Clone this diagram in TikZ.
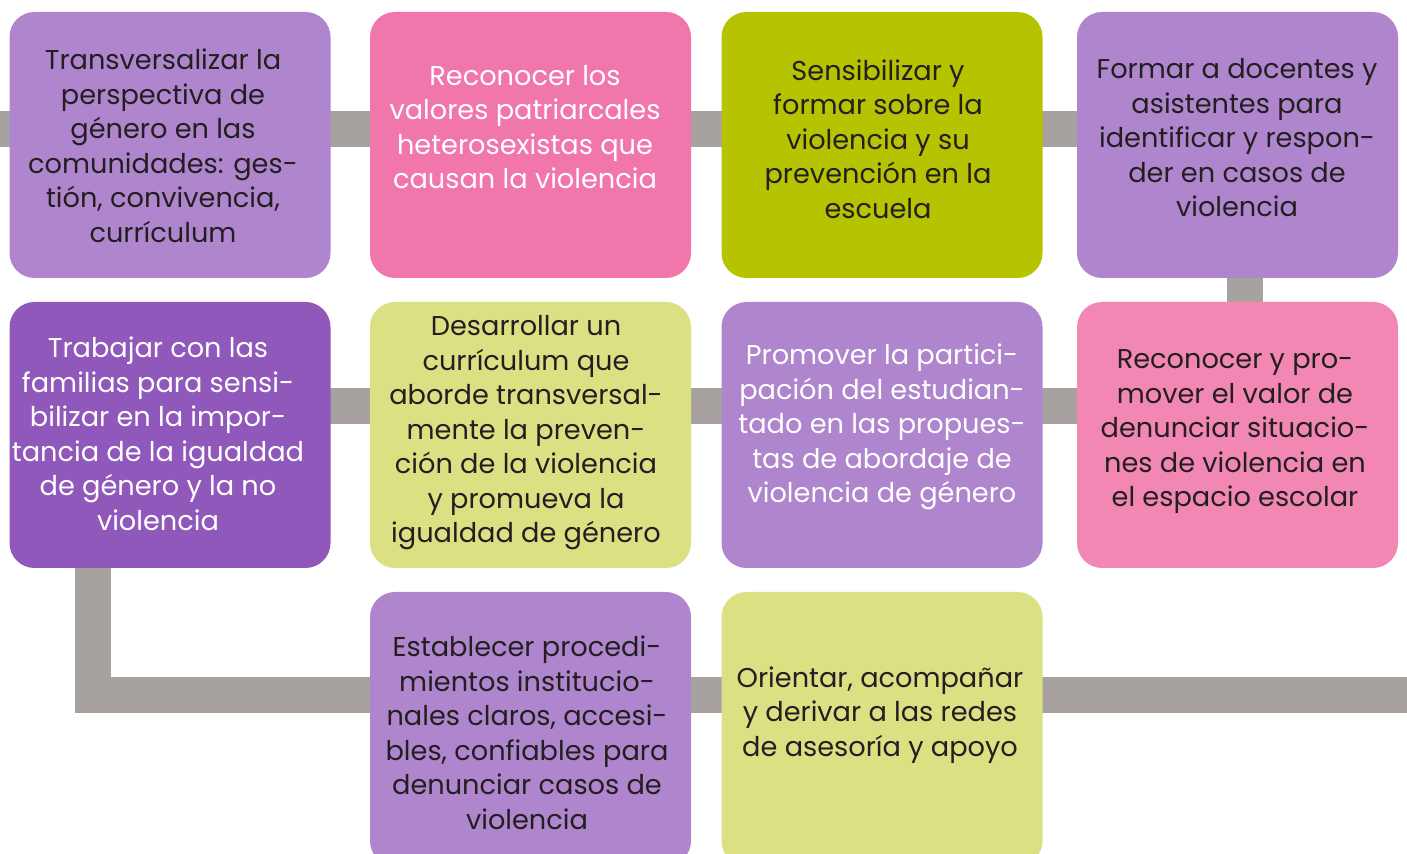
\documentclass[tikz,border=0pt]{standalone}
\usepackage{fontspec}
\setmainfont{Poppins}
\usetikzlibrary{backgrounds}

\definecolor{lila}{HTML}{AF85CE}
\definecolor{rosa}{HTML}{F076AB}
\definecolor{lima}{HTML}{B5C300}
\definecolor{morado}{HTML}{9058BA}
\definecolor{limaclaro}{HTML}{DBE183}
\definecolor{rosaclaro}{HTML}{F287B3}
\definecolor{gris}{HTML}{A7A29F}
\definecolor{tinta}{HTML}{231F20}

\tikzset{
  box/.style={rounded corners=12.5pt, minimum width=160.5pt, minimum height=133pt, inner sep=0pt},
  txt/.style={align=center, inner sep=0pt, text=tinta, font=\fontsize{13.6}{17.25}\selectfont},
  bar/.style={draw=gris, line width=18pt},
}

\begin{document}
\begin{tikzpicture}[x=.5pt, y=-.5pt]
	\useasboundingbox (0,0) rectangle (1407,854);

	\node[box, fill=lila]      (b11) at (170,145) {};
	\node[box, fill=rosa]      (b12) at (530.5,145) {};
	\node[box, fill=lima]      (b13) at (882,145) {};
	\node[box, fill=lila]      (b14) at (1237.5,145) {};
	\node[box, fill=morado]    (b21) at (170,435) {};
	\node[box, fill=limaclaro] (b22) at (530.5,435) {};
	\node[box, fill=lila]      (b23) at (882,435) {};
	\node[box, fill=rosaclaro] (b24) at (1237.5,435) {};
	\node[box, fill=lila, minimum height=137pt]      (b31) at (530.5,729) {};
	\node[box, fill=limaclaro, minimum height=137pt] (b32) at (882,729) {};

	\node[txt]             (t11) at (163,146)   {Transversalizar la\\perspectiva de\\género en las\\comunidades: ges-\\tión, convivencia,\\currículum};
	\node[txt, text=white] (t12) at (525,127)   {Reconocer los\\valores patriarcales\\heterosexistas que\\causan la violencia};
	\node[txt]             (t13) at (878,139)   {Sensibilizar y\\formar sobre la\\violencia y su\\prevención en la\\escuela};
	\node[txt]             (t14) at (1237,138)  {Formar a docentes y\\asistentes para\\identificar y respon-\\der en casos de\\violencia};
	\node[txt, text=white] (t21) at (158,434)   {Trabajar con las\\familias para sensi-\\bilizar en la impor-\\tancia de la igualdad\\de género y la no\\violencia};
	\node[txt]             (t22) at (526,433)   {Desarrollar un\\currículum que\\aborde transversal-\\mente la preven-\\ción de la violencia\\y promueva la\\igualdad de género};
	\node[txt, text=white] (t23) at (882,427)   {Promover la partici-\\pación del estudian-\\tado en las propues-\\tas de abordaje de\\violencia de género};
	\node[txt]             (t24) at (1235,432)  {Reconocer y pro-\\mover el valor de\\denunciar situacio-\\nes de violencia en\\el espacio escolar};
	\node[txt]             (t31) at (527,733)   {Establecer procedi-\\mientos institucio-\\nales claros, accesi-\\bles, confiables para\\denunciar casos de\\violencia};
	\node[txt]             (t32) at (880,715)   {Orientar, acompañar\\y derivar a las redes\\de asesoría y apoyo};

	\coordinate (in)  at (0,129);
	\coordinate (out) at (1407,695);

	\begin{scope}[on background layer]
		\draw[bar] (in) -- (in -| b14.center);
		\draw[bar] ([xshift=3.5pt]b14.center) -- ([xshift=3.5pt]b24.center);
		\draw[bar] ([yshift=14.5pt]b24.center) -- ([yshift=14.5pt]b21.center);
		\draw[bar, line join=miter] ([xshift=-38.75pt]b21.center) |- (out);
	\end{scope}

\end{tikzpicture}
\end{document}
